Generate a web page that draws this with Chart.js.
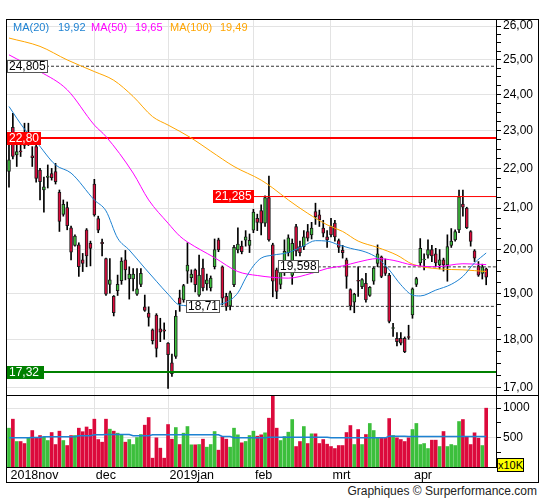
<!DOCTYPE html>
<html>
<head>
<meta charset="utf-8">
<script src="https://cdn.jsdelivr.net/npm/chart.js@4.4.1/dist/chart.umd.min.js"></script>
<style>
  html, body { margin:0; padding:0; background:#fff; }
  body { width:545px; height:500px; position:relative; overflow:hidden;
         font-family:"Liberation Sans", Arial, sans-serif; }
  .abs { position:absolute; }
  canvas { position:absolute; display:block; }
  #frame { left:6px; top:19px; width:533px; height:464px; box-sizing:border-box; border:1px solid #000; z-index:5; }
  #divider { left:6px; top:395px; width:533px; height:1px; background:#000; z-index:5; }
  .leg { top:21px; font-size:11px; line-height:13px; z-index:6; white-space:nowrap; }
  .lvl { font-size:12px; line-height:11px; height:13px; padding:0 1px; box-sizing:border-box; z-index:6; white-space:nowrap; overflow:hidden; }
  #x10k { left:497px; top:458px; width:27px; height:14px; box-sizing:border-box; background:#ffff00; border:1px solid #000; font-size:11px; line-height:12px; text-align:center; z-index:7; }
  #foot { right:8px; top:484px; font-size:12px; line-height:14px; color:#222; }
</style>
</head>
<body>
<canvas id="pc" width="532" height="376" style="left:6px;top:19px;width:532px;height:376px"></canvas>
<canvas id="vc" width="532" height="87" style="left:6px;top:395px;width:532px;height:87px"></canvas>
<div id="frame" class="abs"></div>
<div id="divider" class="abs"></div>
<div id="x10k" class="abs">x10K</div>
<div id="foot" class="abs">Graphiques © Surperformance.com</div>
<script>
// ---------------- DATA ----------------
const months = ['2018nov', 'dec', '2019jan', 'feb', 'mrt', 'apr'];
const monthStart = [0, 22, 41, 63, 83, 104];

const open = [
  21.92, 23.09, 22.35, 22.46, 22.72, 22.70, 22.33, 22.57, 21.96, 21.45,
  21.77, 21.87, 21.92, 21.39, 20.84, 21.01, 20.52, 20.10, 20.11, 19.76,
  20.47, 20.15, 21.60, 20.74, 20.17, 19.79, 19.20, 18.93, 19.06, 19.28,
  19.76, 19.32, 19.32, 18.98, 19.20, 18.70, 18.56, 18.20, 18.52, 18.22,
  18.20, 17.92, 17.51, 17.64, 18.90, 18.85, 19.50, 19.35, 19.53, 18.96,
  19.57, 19.21, 19.12, 19.60, 20.23, 19.60, 18.93, 18.72, 19.19, 19.99,
  20.08, 20.22, 20.10, 20.46, 20.75, 20.94, 20.63, 21.26, 20.11, 19.53,
  19.20, 19.47, 19.93, 19.40, 20.55, 20.07, 20.07, 20.43, 20.35, 20.91,
  20.83, 20.51, 20.30, 20.55, 20.63, 20.21, 19.98, 19.76, 19.08, 18.80,
  19.29, 19.15, 19.22, 18.95, 19.27, 19.68, 19.83, 19.60, 19.41, 18.23,
  18.02, 18.02, 18.02, 18.06, 18.52, 19.20, 19.69, 19.76, 19.87, 20.00,
  19.90, 19.64, 19.76, 19.64, 20.10, 20.23, 20.47, 21.10, 21.00, 20.43,
  19.97, 19.62, 19.45, 19.55
];
const high = [
  22.66, 23.47, 22.66, 22.62, 23.20, 23.20, 22.57, 22.64, 22.00, 21.78,
  22.09, 22.00, 22.13, 21.45, 21.20, 21.15, 20.56, 20.35, 20.16, 19.91,
  20.50, 20.20, 21.72, 20.80, 20.25, 19.80, 19.79, 18.95, 19.41, 19.81,
  19.98, 19.60, 19.56, 19.56, 19.56, 18.96, 18.70, 18.22, 18.55, 18.45,
  18.35, 17.93, 17.69, 18.62, 19.07, 19.20, 20.16, 19.53, 19.55, 19.87,
  19.78, 19.43, 19.39, 20.25, 20.27, 19.62, 19.00, 19.05, 20.10, 20.52,
  20.20, 20.45, 20.37, 20.97, 20.85, 21.08, 21.30, 21.80, 20.15, 19.57,
  19.70, 20.23, 20.35, 20.25, 20.60, 20.20, 20.45, 20.60, 20.65, 21.12,
  20.95, 20.70, 20.45, 20.75, 20.70, 20.25, 20.10, 19.80, 19.10, 19.00,
  19.60, 19.33, 19.45, 19.15, 19.60, 20.11, 19.85, 19.78, 19.45, 18.34,
  18.14, 18.14, 18.05, 18.30, 19.12, 19.36, 20.26, 19.90, 20.23, 20.10,
  20.03, 20.00, 19.80, 20.35, 20.50, 20.47, 21.45, 21.45, 21.02, 20.45,
  20.00, 19.72, 19.66, 19.57
];
const low = [
  21.52, 22.25, 22.05, 22.31, 22.52, 22.60, 22.05, 21.65, 21.20, 20.90,
  21.50, 21.70, 21.60, 20.43, 20.80, 20.47, 19.76, 20.08, 19.38, 19.49,
  19.60, 19.62, 20.80, 20.40, 19.85, 18.95, 19.00, 18.50, 18.95, 19.20,
  19.30, 18.87, 19.05, 18.95, 19.15, 18.60, 18.28, 17.90, 17.63, 17.95,
  18.00, 16.99, 17.23, 17.60, 18.60, 18.80, 19.22, 19.25, 19.03, 18.93,
  19.05, 19.07, 19.05, 19.55, 19.95, 18.74, 18.62, 18.63, 19.15, 19.92,
  19.90, 20.08, 19.93, 20.40, 20.45, 20.35, 20.55, 20.20, 18.92, 18.88,
  19.10, 19.40, 19.85, 19.20, 19.85, 19.85, 20.00, 20.20, 20.25, 20.60,
  20.55, 20.30, 20.05, 20.30, 20.20, 19.93, 19.80, 19.11, 18.63, 18.57,
  18.93, 19.10, 18.80, 18.93, 19.20, 19.60, 19.35, 19.40, 18.35, 18.06,
  17.86, 17.88, 17.72, 18.00, 18.45, 19.15, 19.61, 19.53, 19.80, 19.72,
  19.60, 19.55, 19.50, 19.27, 20.05, 20.20, 20.40, 20.80, 20.50, 20.08,
  19.72, 19.38, 19.32, 19.19
];
const close = [
  22.22, 22.31, 22.44, 22.43, 22.60, 22.85, 22.28, 21.74, 21.66, 21.53,
  21.80, 21.76, 21.66, 20.67, 21.09, 20.57, 19.94, 20.32, 19.60, 19.68,
  19.85, 20.03, 20.83, 20.46, 20.14, 18.98, 19.30, 18.57, 19.20, 19.73,
  19.53, 19.43, 19.43, 19.10, 19.45, 18.62, 18.47, 17.97, 17.81, 18.15,
  18.17, 17.68, 17.29, 18.50, 18.77, 19.17, 19.64, 19.43, 19.19, 19.41,
  19.12, 19.30, 19.34, 20.00, 19.99, 18.89, 18.70, 19.01, 20.05, 20.13,
  19.95, 20.30, 20.22, 20.90, 20.65, 20.63, 21.26, 20.23, 19.27, 19.04,
  19.50, 19.96, 20.28, 20.15, 19.96, 19.93, 20.30, 20.27, 20.51, 20.79,
  20.71, 20.39, 20.23, 20.35, 20.30, 20.05, 19.93, 19.38, 18.72, 18.98,
  19.27, 19.31, 18.85, 19.13, 19.57, 19.90, 19.38, 19.45, 18.38, 18.25,
  17.95, 17.92, 17.74, 18.04, 19.10, 19.33, 20.03, 19.78, 20.00, 19.85,
  19.69, 19.76, 19.64, 20.07, 20.20, 20.43, 21.28, 21.02, 20.52, 20.19,
  19.80, 19.41, 19.60, 19.36
];
// volume in units of 10K
const volume = [
  660, 813, 433, 433, 399, 496, 620, 496, 535, 507,
  450, 586, 382, 609, 450, 365, 535, 535, 660, 600,
  680, 640, 813, 467, 422, 813, 643, 609, 575, 547,
  422, 467, 382, 501, 552, 711, 841, 150, 496, 320,
  150, 722, 473, 671, 382, 575, 688, 377, 377, 382,
  473, 337, 382, 603, 286, 513, 473, 337, 660, 547,
  411, 434, 535, 609, 524, 547, 581, 830, 1204, 660,
  450, 518, 592, 807, 348, 433, 688, 399, 564, 564,
  399, 467, 388, 348, 314, 365, 365, 586, 705, 382,
  637, 382, 552, 740, 620, 496, 496, 496, 824, 535,
  496, 467, 433, 496, 637, 740, 382, 399, 314, 456,
  456, 348, 603, 348, 382, 365, 773, 807, 507, 382,
  581, 490, 365, 1000
];
const volAvg = [
  496, 496, 496, 496, 496, 496, 501, 501, 501, 513,
  513, 513, 513, 513, 513, 513, 513, 513, 530, 530,
  530, 530, 547, 547, 547, 552, 552, 552, 552, 552,
  552, 552, 530, 530, 530, 530, 530, 547, 547, 547,
  547, 547, 547, 547, 547, 547, 547, 547, 547, 547,
  547, 547, 547, 547, 547, 518, 518, 518, 496, 496,
  496, 496, 496, 496, 496, 496, 496, 507, 507, 507,
  507, 507, 507, 507, 507, 507, 507, 507, 507, 507,
  507, 507, 507, 496, 496, 496, 496, 496, 496, 496,
  496, 496, 496, 496, 496, 496, 496, 496, 524, 524,
  524, 524, 524, 518, 518, 518, 518, 518, 518, 518,
  518, 518, 518, 518, 518, 518, 518, 518, 518, 518,
  518, 518, 518, 518
];
// moving averages read at sampled candles
const ma20Idx = [0, 4, 7, 12, 16, 22, 25, 28, 31, 35, 38, 41, 44, 48, 53, 56, 59, 61, 63, 65, 68, 72, 76, 79, 82, 85, 88, 92, 95, 98, 101, 104, 106, 110, 114, 117, 120, 123];
const ma20Val = [23.66, 23.04, 22.70, 22.09, 21.88, 21.20, 20.93, 20.27, 19.99, 19.57, 19.27, 18.98, 18.74, 18.72, 18.74, 18.80, 19.01, 19.34, 19.62, 19.80, 19.87, 19.93, 20.09, 20.21, 20.20, 20.11, 20.03, 19.94, 19.80, 19.53, 19.19, 18.96, 18.94, 19.07, 19.20, 19.38, 19.69, 19.92];
const ma50Idx = [0, 8, 15, 22, 25, 32, 36, 41, 44, 46, 53, 59, 64, 72, 78, 82, 86, 90, 95, 99, 104, 110, 117, 123];
const ma50Val = [25.14, 24.65, 24.13, 23.15, 22.84, 21.88, 21.20, 20.63, 20.32, 20.18, 19.81, 19.49, 19.40, 19.34, 19.45, 19.56, 19.62, 19.71, 19.79, 19.75, 19.64, 19.60, 19.67, 19.65];
const ma100Idx = [0, 8, 15, 22, 27, 32, 37, 41, 47, 52, 58, 65, 68, 72, 77, 82, 86, 90, 95, 100, 104, 111, 117, 123];
const ma100Val = [25.64, 25.39, 24.99, 24.65, 24.40, 23.94, 23.38, 23.15, 22.80, 22.45, 22.05, 21.70, 21.50, 21.20, 20.87, 20.59, 20.43, 20.20, 20.05, 19.87, 19.66, 19.55, 19.53, 19.49];
// horizontal levels
const levelVals = [24.805, 22.80, 21.285, 19.598, 18.71, 17.32];
const levelText = ['24,805', '22,80', '21,285', '19,598', '18,71', '17,32'];
// axis tick labels
const priceTicks = [17, 18, 19, 20, 21, 22, 23, 24, 25, 26];
const volTicks = [500, 1000];

// ---------------- STYLE / LAYOUT ----------------
Chart.defaults.font.family = "'Liberation Sans', Arial, sans-serif";
Chart.defaults.font.size = 12;
Chart.defaults.color = '#000';
Chart.defaults.animation = false;

const XMIN = -0.77, XMAX = 125.53;
const PRICE_MIN = 16.86, PRICE_MAX = 26.22, VOL_MAX = 1224;
const GRID = '#e3e3e3';
const GREEN = '#3cbf3c', RED = '#dc0a3c';
const C20 = '#1e82d2', C50 = '#ff00ff', C100 = '#ffa500';

const levelStyle = [
  { color: '#333', width: 1, dash: [3, 2], from: XMIN, box: { left: 7, bg: '#fff', fg: '#000', border: '#555' } },
  { color: '#ff0000', width: 2, dash: [], from: XMIN, box: { left: 7, bg: '#ff0000', fg: '#fff', border: '#ff0000' } },
  { color: '#ff0000', width: 1, dash: [], from: 52.6, box: { left: 213, bg: '#ff0000', fg: '#fff', border: '#ff0000' } },
  { color: '#333', width: 1, dash: [3, 2], from: 69.3, box: { left: 278, bg: '#fff', fg: '#000', border: '#555' } },
  { color: '#333', width: 1, dash: [3, 2], from: 45.6, box: { left: 186, bg: '#fff', fg: '#000', border: '#555' } },
  { color: '#008000', width: 2, dash: [], from: XMIN, box: { left: 7, bg: '#008000', fg: '#fff', border: '#008000', width: 37 } }
];

const idx = close.map((_, i) => i);
const candleColor = idx.map(i => close[i] >= open[i] ? GREEN : RED);

const priceTickVals = [];
priceTicks.forEach((t, k) => {
  priceTickVals.push(t);
  if (k < priceTicks.length - 1) [0.25, 0.5, 0.75].forEach(f => priceTickVals.push(t + f));
});
const volTickVals = [];
volTicks.forEach(t => { volTickVals.push(t - 250, t); });

const transparent = 'rgba(0,0,0,0)';
function noPad(s) { s.paddingTop = 0; s.paddingBottom = 0; s.paddingLeft = 0; s.paddingRight = 0; }
function xScale(showLabels) {
  return {
    type: 'linear', min: XMIN, max: XMAX, offset: false, bounds: 'data',
    afterBuildTicks: s => { s.ticks = monthStart.map(v => ({ value: v })); s.min = XMIN; s.max = XMAX; },
    afterFit: s => { s.height = showLabels ? 15 : 0; noPad(s); },
    ticks: {
      display: showLabels, autoSkip: false, maxRotation: 0, minRotation: 0, align: 'start',
      labelOffset: 1.5, padding: 1, font: { size: 12.5 },
      callback: v => months[monthStart.indexOf(v)]
    },
    grid: { color: c => (c.tick && c.tick.value > 0) ? GRID : transparent, drawTicks: false, offset: false, lineWidth: 1 },
    border: { display: showLabels, color: '#000', width: 1 }
  };
}
const common = {
  responsive: false,
  events: [],
  layout: { padding: 0, autoPadding: false },
  plugins: { legend: { display: false }, tooltip: { enabled: false } }
};

// ---------------- PRICE CHART ----------------
const pDatasets = [];
[[ma20Idx, ma20Val, C20], [ma50Idx, ma50Val, C50], [ma100Idx, ma100Val, C100]].forEach(([xs, vs, col]) => {
  pDatasets.push({
    type: 'line', data: xs.map((x, k) => ({ x: x, y: vs[k] })), borderColor: col, borderWidth: 1,
    pointRadius: 0, fill: false, cubicInterpolationMode: 'monotone', order: 0
  });
});
levelVals.forEach((v, k) => {
  const st = levelStyle[k];
  pDatasets.push({
    type: 'line', data: [{ x: st.from, y: v }, { x: XMAX, y: v }], borderColor: st.color,
    borderWidth: st.width, borderDash: st.dash, pointRadius: 0, fill: false, order: 1
  });
});
pDatasets.push({
  type: 'bar', data: idx.map(i => ({ x: i, y: [Math.min(open[i], close[i]), Math.max(open[i], close[i])] })),
  backgroundColor: candleColor, borderColor: '#1a1a1a', borderWidth: 1, borderSkipped: false,
  barThickness: 3, grouped: false, order: 2
});
pDatasets.push({
  type: 'bar', data: idx.map(i => ({ x: i, y: [low[i], high[i]] })),
  backgroundColor: '#000', borderWidth: 0, barThickness: 1, grouped: false, order: 3
});

const pc = new Chart(document.getElementById('pc'), {
  type: 'bar',
  data: { datasets: pDatasets },
  options: Object.assign({}, common, {
    scales: {
      x: xScale(false),
      y: {
        type: 'logarithmic', position: 'right', min: PRICE_MIN, max: PRICE_MAX, bounds: 'data',
        afterBuildTicks: s => { s.ticks = priceTickVals.map(v => ({ value: v })); s.min = PRICE_MIN; s.max = PRICE_MAX; },
        afterFit: s => { s.width = 42; noPad(s); },
        ticks: {
          autoSkip: false, padding: 2, color: '#000',
          callback: v => priceTicks.includes(v) ? v.toFixed(2).replace('.', ',') : ''
        },
        grid: {
          color: c => (c.tick && priceTicks.includes(c.tick.value)) ? GRID : transparent,
          tickColor: '#000', tickLength: 5, drawTicks: true, lineWidth: 1
        },
        border: { display: true, color: '#000', width: 1 }
      }
    }
  })
});

// ---------------- VOLUME CHART ----------------
new Chart(document.getElementById('vc'), {
  type: 'bar',
  data: {
    datasets: [
      { type: 'line', data: idx.map(i => ({ x: i, y: volAvg[i] })), borderColor: C20, borderWidth: 1.5, pointRadius: 0, fill: false, order: 0 },
      { type: 'bar', data: idx.map(i => ({ x: i, y: volume[i] })), backgroundColor: candleColor, borderWidth: 0, barThickness: 3, grouped: false, order: 1 }
    ]
  },
  options: Object.assign({}, common, {
    scales: {
      x: xScale(true),
      y: {
        type: 'linear', position: 'right', min: 0, max: VOL_MAX, bounds: 'data',
        afterBuildTicks: s => { s.ticks = volTickVals.map(v => ({ value: v })); s.min = 0; s.max = VOL_MAX; },
        afterFit: s => { s.width = 42; noPad(s); },
        ticks: { autoSkip: false, padding: 2, callback: v => volTicks.includes(v) ? String(v) : '' },
        grid: {
          color: c => (c.tick && volTicks.includes(c.tick.value)) ? GRID : transparent,
          tickColor: '#000', tickLength: 5, drawTicks: true, lineWidth: 1
        },
        border: { display: true, color: '#000', width: 1 }
      }
    }
  })
});

// ---------------- TEXT OVERLAYS ----------------
const ys = pc.scales.y;
levelVals.forEach((v, k) => {
  const b = levelStyle[k].box;
  const d = document.createElement('div');
  d.className = 'abs lvl';
  d.textContent = levelText[k];
  d.style.left = b.left + 'px';
  d.style.top = (19 + ys.getPixelForValue(v) - 6.5) + 'px';
  d.style.background = b.bg;
  d.style.color = b.fg;
  d.style.border = '1px solid ' + b.border;
  if (b.width) d.style.width = b.width + 'px';
  document.body.appendChild(d);
});

const fmt = v => v.toFixed(2).replace('.', ',');
[['MA(20)', ma20Val, C20, 13, 58], ['MA(50)', ma50Val, C50, 91, 135], ['MA(100)', ma100Val, C100, 170, 220]]
  .forEach(([name, vals, col, x1, x2]) => {
    [[name, x1], [fmt(vals[vals.length - 1]), x2]].forEach(([txt, x]) => {
      const s = document.createElement('div');
      s.className = 'abs leg';
      s.textContent = txt;
      s.style.left = x + 'px';
      s.style.color = col;
      document.body.appendChild(s);
    });
  });
</script>
</body>
</html>
